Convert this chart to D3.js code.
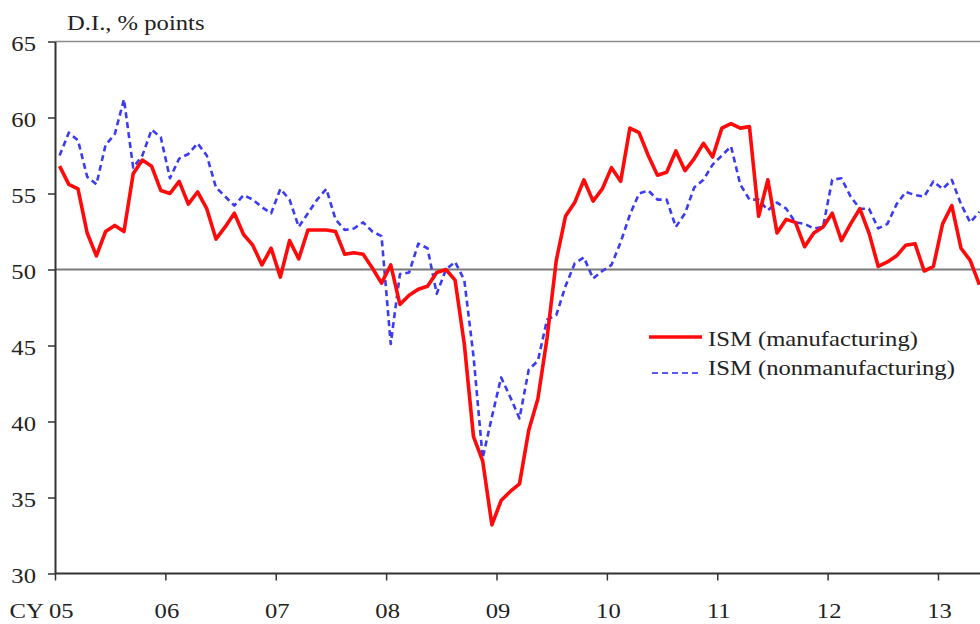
<!DOCTYPE html>
<html>
<head>
<meta charset="utf-8">
<script src="https://cdn.jsdelivr.net/npm/d3@7"></script>
<style>
  html, body { margin: 0; padding: 0; background: #fff; }
  svg { display: block; }
  text { font-family: "Liberation Serif", "Times New Roman", serif; fill: #222; }
</style>
</head>
<body>
<svg id="chart" width="980" height="624"></svg>
<script>
// ---- data (monthly, starting Jan 2005) ----
const startYear = 2005;
const yearTickLabels = ["CY 05", "06", "07", "08", "09", "10", "11", "12", "13"];
const yTicks = [30, 35, 40, 45, 50, 55, 60, 65];
const seriesNames = ["ISM (manufacturing)", "ISM (nonmanufacturing)"];

const ismManufacturing = [
  56.8, 55.6, 55.3, 52.4, 50.9, 52.5, 52.9, 52.5, 56.3, 57.2, 56.8, 55.2,
  55.0, 55.8, 54.3, 55.1, 54.0, 52.0, 52.8, 53.7, 52.3, 51.6, 50.3, 51.4,
  49.5, 51.9, 50.7, 52.6, 52.6, 52.6, 52.5, 51.0, 51.1, 51.0, 50.1, 49.1,
  50.3, 47.7, 48.3, 48.7, 48.9, 49.8, 50.0, 49.3, 45.1, 39.0, 37.4, 33.2,
  34.8, 35.4, 35.9, 39.4, 41.5, 45.5, 50.6, 53.5, 54.4, 55.9, 54.5, 55.3,
  56.7, 55.8, 59.3, 59.0, 57.5, 56.2, 56.4, 57.8, 56.5, 57.3, 58.3, 57.4,
  59.3, 59.6, 59.3, 59.4, 53.5, 55.9, 52.4, 53.3, 53.1, 51.5, 52.4, 52.8,
  53.7, 51.9, 53.0, 54.0, 52.4, 50.2, 50.5, 50.9, 51.6, 51.7, 49.9, 50.2,
  53.0, 54.2, 51.4, 50.6, 49.0
];
const ismNonmanufacturing = [
  57.5, 59.0, 58.5, 56.1, 55.6, 58.2, 58.9, 61.2, 56.7, 57.5, 59.2, 58.7,
  56.0, 57.3, 57.6, 58.3, 57.5, 55.4, 54.8, 54.2, 54.9, 54.6, 54.1, 53.7,
  55.3, 54.6, 52.8, 53.7, 54.6, 55.3, 53.3, 52.6, 52.7, 53.1, 52.5, 52.2,
  45.1, 49.7, 49.8, 51.7, 51.4, 48.4, 50.0, 50.5, 49.3, 44.3, 37.6, 40.3,
  42.9, 41.6, 40.2, 43.4, 44.0, 46.7, 47.0, 48.9, 50.4, 50.8, 49.4, 49.9,
  50.3, 51.8, 53.6, 55.0, 55.2, 54.6, 54.6, 52.8, 53.7, 55.4, 55.9, 56.9,
  57.5, 58.1, 55.6, 54.6, 54.6, 53.9, 54.4, 54.0, 53.1, 53.0, 52.7, 52.8,
  55.9, 56.0, 54.8, 54.0, 54.0, 52.7, 53.0, 54.3, 55.1, 54.9, 54.8, 55.8,
  55.3, 55.9, 54.3, 53.1, 53.8
];

// ---- layout ----
const W = 980, H = 624;
const mLeft = 55, mTop = 41.5, mBottom = 573.5;
const sx = 1.12; // horizontal stretch of the original typography

const svg = d3.select("#chart");
svg.append("rect").attr("width", W).attr("height", H).attr("fill", "#fff");

// x: months since Jan 2005; each value plotted mid-month
const x = d3.scaleLinear().domain([0, 96]).range([mLeft, 938]);
const y = d3.scaleLinear().domain([30, 65]).range([mBottom, mTop]);

svg.append("defs").append("clipPath").attr("id", "plotclip")
  .append("rect").attr("x", mLeft).attr("y", 0).attr("width", W - mLeft).attr("height", H);

// top border
svg.append("line")
  .attr("x1", mLeft).attr("x2", W).attr("y1", y(65)).attr("y2", y(65))
  .attr("stroke", "#8a8a8a").attr("stroke-width", 1.6);

// 50 reference line
svg.append("line")
  .attr("x1", mLeft).attr("x2", W).attr("y1", y(50)).attr("y2", y(50))
  .attr("stroke", "#7a7a7a").attr("stroke-width", 2);

// y axis
const yAxis = d3.axisLeft(y).tickValues(yTicks).tickSize(7).tickSizeOuter(0).tickFormat(d3.format("d"));
const gy = svg.append("g").attr("transform", `translate(${mLeft},0)`).call(yAxis);
gy.select(".domain").attr("stroke", "#333").attr("stroke-width", 2);
gy.selectAll(".tick line").attr("stroke", "#333").attr("stroke-width", 1.5);
gy.selectAll(".tick text")
  .attr("x", null).attr("dy", null)
  .attr("text-anchor", "end")
  .attr("dominant-baseline", "central")
  .attr("transform", `translate(-19,1) scale(${sx},1)`)
  .style("font-size", "22px").attr("fill", "#222");

// x axis
const years = d3.range(0, 9).map(i => i * 12);
const xAxis = d3.axisBottom(x).tickValues(years).tickSize(7).tickSizeOuter(0)
  .tickFormat((d, i) => yearTickLabels[i]);
const gx = svg.append("g").attr("transform", `translate(0,${mBottom})`).call(xAxis);
gx.select(".domain").remove();
gx.append("line").attr("x1", mLeft).attr("x2", W).attr("y1", 0).attr("y2", 0)
  .attr("stroke", "#333").attr("stroke-width", 2);
gx.selectAll(".tick line").attr("stroke", "#333").attr("stroke-width", 1.5);
gx.selectAll(".tick text")
  .attr("y", null).attr("dy", null)
  .attr("text-anchor", (d, i) => i === 0 ? "start" : "middle")
  .attr("transform", (d, i) => i === 0 ? `translate(-46,44) scale(${sx},1)` : `translate(1,44) scale(${sx},1)`)
  .style("font-size", "22px").attr("fill", "#222");

// unit label
svg.append("text")
  .attr("transform", `translate(67,30) scale(${sx},1)`)
  .style("font-size", "22px")
  .text("D.I., % points");

// lines
const line = d3.line()
  .x((d, i) => x(i + 0.5))
  .y(d => y(d));

const plot = svg.append("g").attr("clip-path", "url(#plotclip)");
plot.append("path").datum(ismNonmanufacturing)
  .attr("d", line).attr("fill", "none")
  .attr("stroke", "#3b3bf2").attr("stroke-width", 2.6)
  .attr("stroke-dasharray", "6,4").attr("stroke-linejoin", "round");
plot.append("path").datum(ismManufacturing)
  .attr("d", line).attr("fill", "none")
  .attr("stroke", "#ff0a0a").attr("stroke-width", 3.6)
  .attr("stroke-linejoin", "round");

// legend
const legend = svg.append("g");
legend.append("line").attr("x1", 649).attr("x2", 702).attr("y1", 337).attr("y2", 337)
  .attr("stroke", "#ff0a0a").attr("stroke-width", 3.6);
legend.append("text").attr("transform", `translate(708,346) scale(${sx},1)`)
  .style("font-size", "22px").text(seriesNames[0]);
legend.append("line").attr("x1", 652).attr("x2", 702).attr("y1", 373).attr("y2", 373)
  .attr("stroke", "#5a5af5").attr("stroke-width", 2).attr("stroke-dasharray", "6,4");
legend.append("text").attr("transform", `translate(708,375) scale(${sx},1)`)
  .style("font-size", "22px").text(seriesNames[1]);
</script>
</body>
</html>
